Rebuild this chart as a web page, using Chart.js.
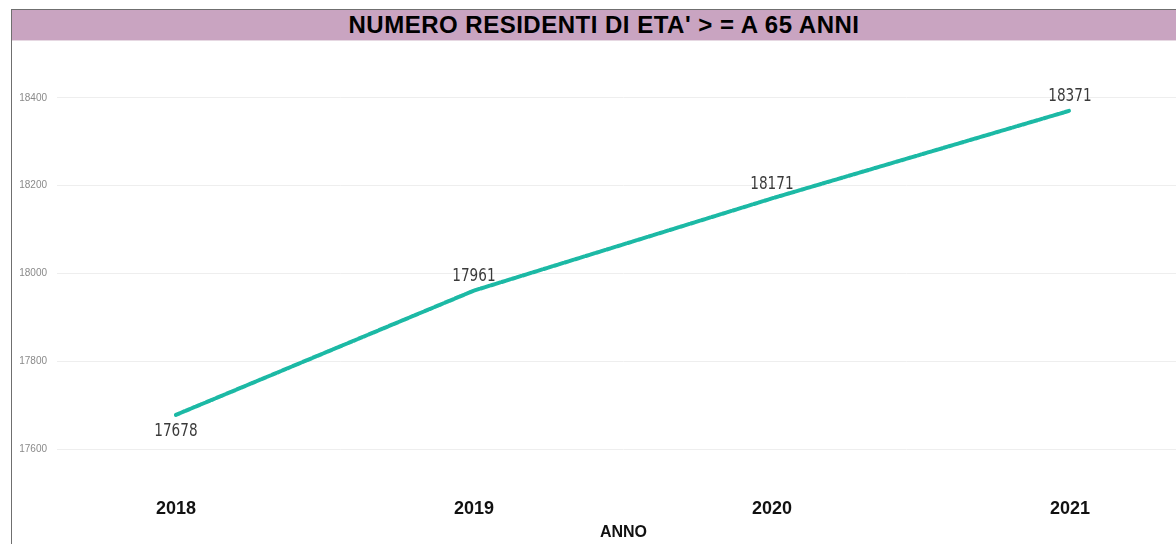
<!DOCTYPE html>
<html>
<head>
<meta charset="utf-8">
<script src="https://cdn.jsdelivr.net/npm/chart.js@4"></script>
<style>
  html, body { margin: 0; padding: 0; background: #fff; overflow: hidden; }
  #wrap { position: relative; width: 1176px; height: 544px; overflow: hidden; }
  #frame { position: absolute; left: 11px; top: 9px; width: 1200px; height: 600px;
           border-top: 1px solid #6f6f6f; border-left: 1px solid #6f6f6f; box-sizing: border-box; }
  #band { position: absolute; left: 12px; top: 10px; width: 1164px; height: 31px; background: #c9a4c1;
          border-bottom: 1px solid #e6d8e2; box-sizing: border-box;
          font: bold 24px "Liberation Sans", Arial, sans-serif; letter-spacing: 0.5px; color: #000;
          text-align: center; line-height: 30px; white-space: nowrap; }
  #band span { position: relative; left: 10px; }
  canvas { position: absolute; left: 0; top: 0; }
</style>
</head>
<body>
<div id="wrap">
  <canvas id="c" width="1190" height="544"></canvas>
  <div id="frame"></div>
  <div id="band"><span>NUMERO RESIDENTI DI ETA' &gt; = A 65 ANNI</span></div>
</div>
<script>
const categories = [2018, 2019, 2020, 2021];
const residents = [17678, 17961, 18171, 18371];
const yTicks = [17600, 17800, 18000, 18200, 18400];
const labelBelow = [true, false, false, false];

const valueLabels = {
  id: 'valueLabels',
  afterDatasetsDraw(chart) {
    const ctx = chart.ctx;
    const meta = chart.getDatasetMeta(0);
    meta.data.forEach((pt, i) => {
      const dy = labelBelow[i] ? 16 : -14;
      ctx.save();
      ctx.font = '18px "DejaVu Sans Condensed", "DejaVu Sans", sans-serif';
      ctx.fillStyle = '#3a3a3a';
      ctx.textAlign = 'center';
      ctx.textBaseline = 'middle';
      ctx.translate(pt.x, pt.y + dy);
      ctx.scale(0.84, 1);
      ctx.fillText(String(residents[i]), 0, 0);
      ctx.restore();
    });
  }
};

new Chart(document.getElementById('c'), {
  type: 'line',
  data: {
    datasets: [{
      data: categories.map((c, i) => ({ x: c, y: residents[i] })),
      borderColor: '#1cb9a5',
      borderWidth: 4,
      borderDash: [4, 1.5],
      borderCapStyle: 'round',
      pointRadius: 0,
      tension: 0,
      fill: false
    }]
  },
  options: {
    responsive: false,
    animation: false,
    layout: { padding: { left: 12, top: 54, right: 0, bottom: 0 } },
    plugins: { legend: { display: false }, tooltip: { enabled: false } },
    scales: {
      x: {
        type: 'linear',
        min: 2017.601,
        max: 2021.403,
        afterBuildTicks: s => { s.ticks = categories.map(v => ({ value: v })); },
        afterFit: s => { s.height = 51; },
        grid: { display: false, drawTicks: false },
        border: { display: false },
        ticks: {
          padding: 5,
          callback: v => String(v),
          font: { family: '"Liberation Sans", Arial, sans-serif', size: 18, weight: 'bold' },
          color: '#111'
        },
        title: {
          display: true,
          text: 'ANNO',
          padding: { top: 0, bottom: 2 },
          font: { family: '"Liberation Sans", Arial, sans-serif', size: 16, weight: 'bold' },
          color: '#111'
        }
      },
      y: {
        min: 17500,
        max: 18500,
        afterBuildTicks: s => { s.ticks = yTicks.map(v => ({ value: v })); },
        afterFit: s => { s.width = 45; },
        grid: { color: '#eeeeee', drawTicks: false },
        border: { display: false },
        ticks: {
          padding: 10,
          callback: v => String(v),
          font: { family: '"Liberation Sans", Arial, sans-serif', size: 10 },
          color: '#8a8a8a'
        }
      }
    }
  },
  plugins: [valueLabels]
});
</script>
</body>
</html>
